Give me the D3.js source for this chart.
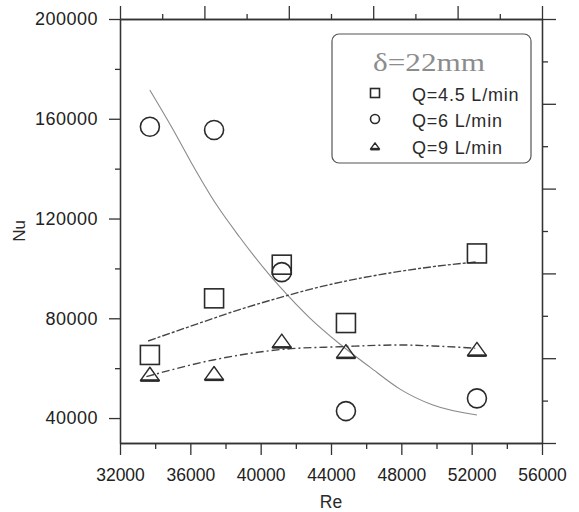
<!DOCTYPE html>
<html>
<head>
<meta charset="utf-8">
<script src="https://cdn.jsdelivr.net/npm/d3@7"></script>
<style>
  body { margin: 0; background: #fff; }
  svg { display: block; }
  .axis path, .axis line { stroke: #333; stroke-width: 1.3; }
  .axis text { font-family: "Liberation Sans", Arial, sans-serif; fill: #222; }
</style>
</head>
<body>
<div id="chart"></div>
<script>
// measured points, same Re for every flow rate
const reValues = [33700, 37350, 41200, 44850, 52300];
const nuQ45 = [65300, 88000, 101500, 78100, 106000];
const nuQ6 = [156800, 155500, 98500, 42800, 47900];
const nuQ9 = [57700, 58000, 71000, 66800, 67700];

// fitted curves
const fitQ45Re = [33600, 36950, 38800, 41500, 42800, 44900, 47900, 49800, 52300];
const fitQ45Nu = [70900, 79100, 83500, 89100, 91600, 95000, 98800, 100700, 102600];
const fitQ6Re = [33700, 35000, 36000, 37500, 38800, 40500, 41100, 42800, 44500, 46200, 47900, 49800, 52300];
const fitQ6Nu = [171500, 155900, 143100, 125400, 112600, 97400, 92600, 80100, 69700, 60500, 51700, 45200, 41200];
const fitQ9Re = [33500, 37300, 41500, 44500, 47900, 49800, 52200];
const fitQ9Nu = [56600, 63300, 67700, 68600, 69300, 68900, 68000];

// ticks
const xTicks = [32000, 36000, 40000, 44000, 48000, 52000, 56000];
const xMinorTicks = [34000, 38000, 42000, 46000, 50000, 54000];
const yTicks = [40000, 80000, 120000, 160000, 200000];
const yMinorTicks = [60000, 100000, 140000, 180000];
// top and right frame axes carry ticks only (no labels)
const frameTicks = [0, 2, 4, 6, 8, 10];
const frameMinorTicks = [1, 3, 5, 7, 9];

const legendTitle = "δ=22mm";
const seriesNames = ["Q=4.5 L/min", "Q=6 L/min", "Q=9 L/min"];
const seriesShapes = ["square", "circle", "triangle"];

const width = 579;
const height = 512;
const plot = { left: 120, right: 542, top: 19, bottom: 443 };
const ink = "#2a2a2a";

const svg = d3.select("#chart").append("svg")
  .attr("width", width)
  .attr("height", height);

const x = d3.scaleLinear().domain([32000, 56000]).range([plot.left, plot.right]);
const y = d3.scaleLinear().domain([30000, 200000]).range([plot.bottom, plot.top]);
const xFrame = d3.scaleLinear().domain([0, 10]).range([plot.left, plot.right]);
const yFrame = d3.scaleLinear().domain([0, 10]).range([plot.bottom, plot.top]);

// bottom axis
svg.append("g").attr("class", "axis")
  .attr("transform", `translate(0,${plot.bottom})`)
  .call(d3.axisBottom(x).tickValues(xMinorTicks).tickSize(6).tickSizeOuter(0).tickFormat(""));
svg.append("g").attr("class", "axis")
  .attr("transform", `translate(0,${plot.bottom})`)
  .call(d3.axisBottom(x).tickValues(xTicks).tickSize(12).tickPadding(14).tickSizeOuter(0).tickFormat(d3.format("d")))
  .selectAll("text").style("font-size", "17.5px");

// left axis
svg.append("g").attr("class", "axis")
  .attr("transform", `translate(${plot.left},0)`)
  .call(d3.axisLeft(y).tickValues(yMinorTicks).tickSize(5).tickSizeOuter(0).tickFormat(""));
svg.append("g").attr("class", "axis")
  .attr("transform", `translate(${plot.left},0)`)
  .call(d3.axisLeft(y).tickValues(yTicks).tickSize(11).tickPadding(11).tickSizeOuter(0).tickFormat(d3.format("d")))
  .selectAll("text").style("font-size", "18px").style("letter-spacing", "0.5px");

// top axis, ticks only
svg.append("g").attr("class", "axis")
  .attr("transform", `translate(0,${plot.top})`)
  .call(d3.axisTop(xFrame).tickValues(frameMinorTicks).tickSize(5).tickSizeOuter(0).tickFormat(""));
svg.append("g").attr("class", "axis")
  .attr("transform", `translate(0,${plot.top})`)
  .call(d3.axisTop(xFrame).tickValues(frameTicks).tickSize(13).tickSizeOuter(0).tickFormat(""));

// right axis, ticks only
svg.append("g").attr("class", "axis")
  .attr("transform", `translate(${plot.right},0)`)
  .call(d3.axisRight(yFrame).tickValues(frameMinorTicks).tickSize(6).tickSizeOuter(0).tickFormat(""));
svg.append("g").attr("class", "axis")
  .attr("transform", `translate(${plot.right},0)`)
  .call(d3.axisRight(yFrame).tickValues(frameTicks).tickSize(14).tickSizeOuter(0).tickFormat(""));

// axis titles
svg.append("text")
  .attr("x", (plot.left + plot.right) / 2)
  .attr("y", 508)
  .attr("text-anchor", "middle")
  .style("font-family", "Liberation Sans, Arial, sans-serif")
  .style("font-size", "17.5px")
  .style("fill", ink)
  .text("Re");

svg.append("text")
  .attr("transform", "translate(25,231) rotate(-90)")
  .attr("text-anchor", "middle")
  .style("font-family", "Liberation Sans, Arial, sans-serif")
  .style("font-size", "17px")
  .style("fill", ink)
  .text("Nu");

// fitted curves
const fitLine = d3.line()
  .x((d) => x(d[0]))
  .y((d) => y(d[1]))
  .curve(d3.curveMonotoneX);

svg.append("path")
  .datum(d3.zip(fitQ6Re, fitQ6Nu))
  .attr("fill", "none")
  .attr("stroke", "#8a8a8a")
  .attr("stroke-width", 1.1)
  .attr("d", fitLine);

svg.append("path")
  .datum(d3.zip(fitQ45Re, fitQ45Nu))
  .attr("fill", "none")
  .attr("stroke", "#444")
  .attr("stroke-width", 1.4)
  .attr("stroke-dasharray", "8,2,3,2")
  .attr("d", fitLine);

svg.append("path")
  .datum(d3.zip(fitQ9Re, fitQ9Nu))
  .attr("fill", "none")
  .attr("stroke", "#444")
  .attr("stroke-width", 1.4)
  .attr("stroke-dasharray", "8,3,2,3")
  .attr("d", fitLine);

// marker drawing helper
function drawMarker(g, shape, cx, cy, size) {
  const h = size / 2;
  if (shape === "square") {
    g.append("rect")
      .attr("x", cx - h).attr("y", cy - h)
      .attr("width", size).attr("height", size)
      .attr("fill", "none").attr("stroke", ink).attr("stroke-width", 1.6);
  } else if (shape === "circle") {
    g.append("circle")
      .attr("cx", cx).attr("cy", cy).attr("r", h)
      .attr("fill", "none").attr("stroke", ink).attr("stroke-width", 1.6);
  } else {
    const th = size * 0.7;
    g.append("path")
      .attr("d", `M${cx},${cy - th / 2}L${cx + h},${cy + th / 2}L${cx - h},${cy + th / 2}Z`)
      .attr("fill", "none").attr("stroke", ink).attr("stroke-width", 1.4)
      .attr("stroke-linejoin", "round");
    g.append("line")
      .attr("x1", cx - h).attr("x2", cx + h)
      .attr("y1", cy + th / 2).attr("y2", cy + th / 2)
      .attr("stroke", ink).attr("stroke-width", 2.6);
  }
}

const seriesValues = [nuQ45, nuQ6, nuQ9];
const markers = svg.append("g");
seriesValues.forEach((vals, i) => {
  vals.forEach((v, j) => {
    drawMarker(markers, seriesShapes[i], x(reValues[j]), y(v), 19);
  });
});

// legend
const legend = svg.append("g");
legend.append("rect")
  .attr("x", 332).attr("y", 34)
  .attr("width", 199).attr("height", 129)
  .attr("rx", 7)
  .attr("fill", "#fff")
  .attr("stroke", "#555")
  .attr("stroke-width", 1.2);

legend.append("text")
  .attr("x", 373)
  .attr("y", 71)
  .attr("textLength", 112)
  .attr("lengthAdjust", "spacingAndGlyphs")
  .style("font-family", "Liberation Serif, Times New Roman, serif")
  .style("font-size", "25px")
  .style("fill", "#8c8c8c")
  .text(legendTitle);

const rowMarkerY = [93, 119, 146];
seriesNames.forEach((name, i) => {
  drawMarker(legend, seriesShapes[i], 375, rowMarkerY[i], 9);
  legend.append("text")
    .attr("x", 412)
    .attr("y", rowMarkerY[i] + 8)
    .style("font-family", "Liberation Sans, Arial, sans-serif")
    .style("font-size", "18px")
    .style("letter-spacing", "0.8px")
    .style("fill", ink)
    .text(name);
});
</script>
</body>
</html>
